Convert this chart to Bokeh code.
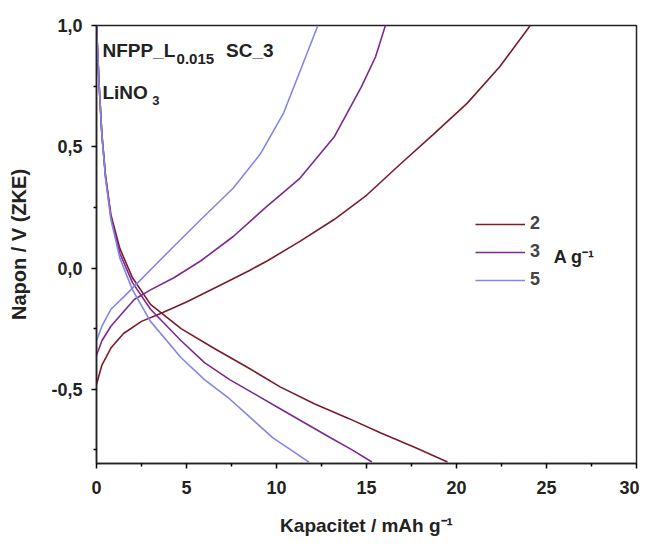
from bokeh.plotting import figure
from bokeh.models import (Range1d, FixedTicker, CustomJSTickFormatter, Legend,
                          LegendItem, Label)
from bokeh.embed import file_html
from bokeh.resources import INLINE

# ---- data ----
rates = ["2", "3", "5"]
colors = ["#7a1c2c", "#7a2a92", "#8585e6"]

# charge branches (capacity, potential)
cap_ch_2 = [0, 0.3, 0.8, 1.5, 2.5, 3.5, 5.0, 6.9, 8.5, 9.5, 11.3, 13.2, 15.0, 16.9, 18.7, 20.6, 22.4, 24.1]
v_ch_2 = [-0.48, -0.40, -0.33, -0.27, -0.22, -0.19, -0.14, -0.07, -0.01, 0.03, 0.11, 0.20, 0.30, 0.43, 0.55, 0.68, 0.83, 1.0]
cap_ch_3 = [0, 0.3, 0.8, 1.5, 2.1, 3.0, 4.3, 5.8, 7.6, 9.4, 11.3, 13.2, 14.7, 15.5, 16.05]
v_ch_3 = [-0.36, -0.30, -0.24, -0.18, -0.13, -0.09, -0.04, 0.03, 0.13, 0.25, 0.37, 0.54, 0.745, 0.87, 1.0]
cap_ch_5 = [0, 0.3, 0.8, 1.5, 2.3, 3.1, 4.3, 5.8, 7.6, 9.1, 10.4, 11.3, 12.3]
v_ch_5 = [-0.30, -0.24, -0.17, -0.12, -0.06, 0.0, 0.09, 0.20, 0.33, 0.47, 0.64, 0.81, 1.0]

# discharge branches
cap_dis_2 = [0, 0.15, 0.3, 0.5, 0.8, 1.3, 2.0, 3.0, 4.7, 6.5, 8.4, 10.2, 12.1, 14.0, 15.8, 17.7, 19.5]
v_dis_2 = [1.0, 0.75, 0.55, 0.38, 0.22, 0.08, -0.04, -0.15, -0.25, -0.33, -0.41, -0.49, -0.56, -0.62, -0.68, -0.74, -0.80]
cap_dis_3 = [0, 0.15, 0.3, 0.5, 0.8, 1.3, 2.0, 3.0, 4.7, 6.0, 7.4, 8.8, 10.2, 11.6, 13.0, 14.2, 15.3]
v_dis_3 = [1.0, 0.75, 0.55, 0.38, 0.21, 0.06, -0.06, -0.17, -0.30, -0.39, -0.46, -0.52, -0.58, -0.64, -0.70, -0.75, -0.80]
cap_dis_5 = [0, 0.15, 0.3, 0.5, 0.8, 1.3, 2.0, 3.0, 4.7, 6.0, 7.4, 8.6, 9.8, 10.8, 11.8]
v_dis_5 = [1.0, 0.75, 0.55, 0.37, 0.20, 0.04, -0.09, -0.22, -0.37, -0.46, -0.54, -0.62, -0.70, -0.75, -0.80]

x_ticks = [0, 5, 10, 15, 20, 25, 30]
x_minor = [2.5, 7.5, 12.5, 17.5, 22.5, 27.5]
y_ticks = [-0.5, 0.0, 0.5, 1.0]
y_minor = [-0.75, -0.25, 0.25, 0.75]

FONT = "Liberation Sans"

p = figure(width=639, height=544, output_backend="svg", toolbar_location=None,
           x_range=Range1d(0, 30), y_range=Range1d(-0.806, 1.0),
           min_border_left=96, min_border_right=3, min_border_top=25, min_border_bottom=81)
p.xgrid.visible = False
p.ygrid.visible = False
p.outline_line_color = "#222222"
p.outline_line_width = 1.5
p.background_fill_color = "white"
p.border_fill_color = "white"

charge = [(cap_ch_2, v_ch_2), (cap_ch_3, v_ch_3), (cap_ch_5, v_ch_5)]
discharge = [(cap_dis_2, v_dis_2), (cap_dis_3, v_dis_3), (cap_dis_5, v_dis_5)]
items = []
for (cx, cy), (dx, dy), c, r in zip(charge, discharge, colors, rates):
    rc = p.line(cx, cy, line_color=c, line_width=1.6)
    p.line(dx, dy, line_color=c, line_width=1.6)
    items.append(LegendItem(label=r, renderers=[rc]))

legend = Legend(items=items, location=(379, 173), glyph_width=50, glyph_height=20,
                label_height=20, spacing=7, padding=0, margin=0,
                border_line_color=None, background_fill_alpha=0,
                label_text_font=FONT, label_text_font_style="bold",
                label_text_font_size="18px", label_standoff=5)
p.add_layout(legend)

for ax in (p.xaxis[0], p.yaxis[0]):
    ax.axis_line_width = 1.5
    ax.axis_line_color = "#222222"
    ax.major_tick_out = 5
    ax.major_tick_in = 0
    ax.minor_tick_out = 3
    ax.minor_tick_in = 0
    ax.major_tick_line_width = 1.5
    ax.minor_tick_line_width = 1.5
    ax.major_label_text_font = FONT
    ax.major_label_text_font_style = "bold"
    ax.major_label_text_font_size = "18px"
    ax.major_label_text_color = "#222222"
    ax.axis_label_text_font = FONT
    ax.axis_label_text_font_style = "bold"
    ax.axis_label_text_font_size = "19px"
    ax.axis_label_text_color = "#222222"

p.xaxis[0].ticker = FixedTicker(ticks=x_ticks, minor_ticks=x_minor)
p.yaxis[0].ticker = FixedTicker(ticks=y_ticks, minor_ticks=y_minor)
p.yaxis[0].formatter = CustomJSTickFormatter(code="return tick.toFixed(1).replace('.', ',');")
p.xaxis[0].axis_label = "Kapacitet / mAh g\u207b\u00b9"
p.yaxis[0].axis_label = "Napon / V (ZKE)"
p.yaxis[0].axis_label_text_font_size = "20px"
p.xaxis[0].major_label_standoff = 12
p.yaxis[0].major_label_standoff = 9
p.xaxis[0].axis_label_standoff = 18
p.yaxis[0].axis_label_standoff = 18

def lab(x, y, t, size):
    p.add_layout(Label(x=x, y=y, text=t, text_font=FONT, text_font_style="bold",
                       text_font_size=size, text_color="#222222",
                       text_baseline="alphabetic"))

lab(0.33, 0.897, "NFPP_L", "19px")
lab(4.45, 0.862, "0.015", "15px")
lab(7.2, 0.897, "SC_3", "19px")
lab(0.33, 0.725, "LiNO", "19px")
lab(3.1, 0.69, "3", "13px")
lab(25.4, 0.045, "A g\u207b\u00b9", "18px")

open("out.html", "w").write(file_html(p, INLINE))
